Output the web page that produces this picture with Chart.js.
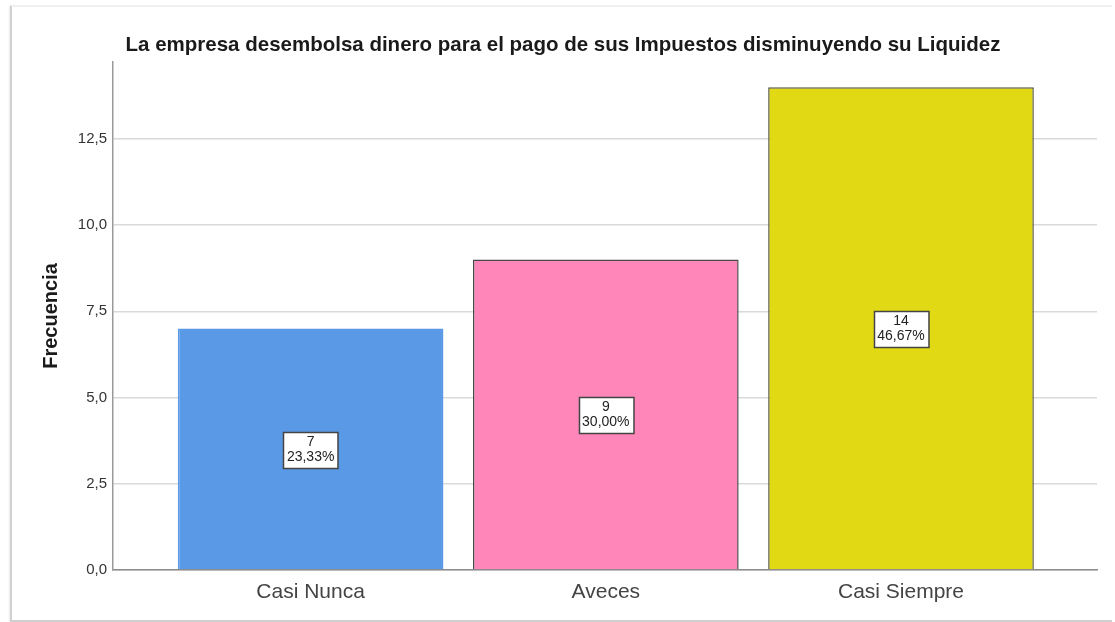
<!DOCTYPE html>
<html>
<head>
<meta charset="utf-8">
<script src="https://cdn.jsdelivr.net/npm/chart.js@4/dist/chart.umd.min.js"></script>
<style>
  html, body { margin: 0; padding: 0; background: #ffffff; }
  #wrap { position: relative; width: 1115px; height: 622px; overflow: hidden; background: #fff; }
  #frame { position: absolute; left: 10px; top: 5px; width: 1100px; height: 613px;
           border-left: 2px solid #d0d0d0; border-bottom: 2px solid #cfcfcf; border-top: 2px solid #f0f0f0;
           box-shadow: -1px 1px 2px rgba(0,0,0,0.08); }
  canvas { position: absolute; left: 0; top: 0; }
</style>
</head>
<body>
<div id="wrap">
  <div id="frame"></div>
  <canvas id="c" width="1115" height="622"></canvas>
</div>
<script>
const chartTitle = "La empresa desembolsa dinero para el pago de sus Impuestos disminuyendo su Liquidez";
const yAxisTitle = "Frecuencia";
const categories = ["Casi Nunca", "Aveces", "Casi Siempre"];
const frequencies = [7, 9, 14];
const percentLabels = ["23,33%", "30,00%", "46,67%"];
const yTickValues = [0, 2.5, 5, 7.5, 10, 12.5];
const barColors = ["#5a99e6", "#fe86b8", "#e2d915"];
const barBorders = ["#5a99e6", "#4a4a4a", "#5a5a40"];

const fontFamily = "'Liberation Sans', Arial, sans-serif";

const titlePlugin = {
  id: 'spssTitle',
  afterDraw(chart) {
    const ctx = chart.ctx;
    ctx.save();
    ctx.font = "bold 20.5px " + fontFamily;
    ctx.fillStyle = "#1a1a1a";
    ctx.textAlign = "center";
    ctx.textBaseline = "middle";
    ctx.fillText(chartTitle, 563, 45);
    ctx.restore();
  }
};

const boxLabelPlugin = {
  id: 'boxLabels',
  afterDatasetsDraw(chart) {
    const ctx = chart.ctx;
    const meta = chart.getDatasetMeta(0);
    ctx.save();
    ctx.font = "14px " + fontFamily;
    meta.data.forEach((bar, i) => {
      const cx = bar.x;
      const cy = (bar.y + bar.base) / 2;
      const l1 = String(frequencies[i]);
      const l2 = percentLabels[i];
      const w = Math.max(ctx.measureText(l1).width, ctx.measureText(l2).width) + 7;
      const h = 36;
      const x0 = Math.round(cx - w / 2) + 0.5, y0 = Math.round(cy - 17) + 0.5;
      ctx.fillStyle = "#ffffff";
      ctx.fillRect(x0, y0, w, h);
      ctx.strokeStyle = "#444444";
      ctx.lineWidth = 1.5;
      ctx.strokeRect(x0, y0, w, h);
      ctx.fillStyle = "#222222";
      ctx.textAlign = "center";
      ctx.textBaseline = "middle";
      ctx.fillText(l1, cx, cy - 7);
      ctx.fillText(l2, cx, cy + 8);
    });
    ctx.restore();
  }
};

new Chart(document.getElementById('c'), {
  type: 'bar',
  data: {
    datasets: [{
      data: categories.map((c, i) => ({ x: i + 1, y: frequencies[i] })),
      backgroundColor: barColors,
      borderColor: barBorders,
      borderWidth: 1.5,
      barPercentage: 0.9,
      categoryPercentage: 1.0
    }]
  },
  options: {
    responsive: false,
    animation: false,
    layout: { padding: { left: 10, right: 18, top: 62, bottom: 13 } },
    plugins: { legend: { display: false }, tooltip: { enabled: false }, title: { display: false } },
    scales: {
      x: {
        type: 'linear',
        offset: false,
        min: 0.3305,
        max: 3.664,
        afterBuildTicks(scale) { scale.ticks = categories.map((c, i) => ({ value: i + 1 })); },
        ticks: {
          callback: (v) => categories[Math.round(v) - 1] || '',
          font: { family: fontFamily, size: 21 },
          color: '#444444',
          padding: 10,
          maxRotation: 0,
          autoSkip: false
        },
        grid: { display: false, drawTicks: false },
        border: { display: true, color: '#8c8c8c', width: 1.5 },
        afterFit(scale) { scale.paddingLeft = 0; scale.paddingRight = 0; scale.height = 39; }
      },
      y: {
        type: 'linear',
        min: 0,
        max: 14.73,
        afterBuildTicks(scale) { scale.ticks = yTickValues.map(v => ({ value: v })); },
        ticks: {
          callback: (v) => v.toFixed(1).replace('.', ','),
          font: { family: fontFamily, size: 15 },
          color: '#333333',
          padding: 6
        },
        grid: { color: '#d9d9d9', lineWidth: 1.5, drawTicks: false },
        border: { display: true, color: '#9a9a9a', width: 1.5 },
        title: {
          display: true,
          text: yAxisTitle,
          font: { family: fontFamily, size: 20, weight: 'bold' },
          color: '#1a1a1a',
          padding: { top: 29, bottom: 0 }
        },
        afterFit(scale) { scale.width = 103; scale.paddingTop = 0; scale.paddingBottom = 0; }
      }
    }
  },
  plugins: [titlePlugin, boxLabelPlugin]
});
</script>
</body>
</html>
